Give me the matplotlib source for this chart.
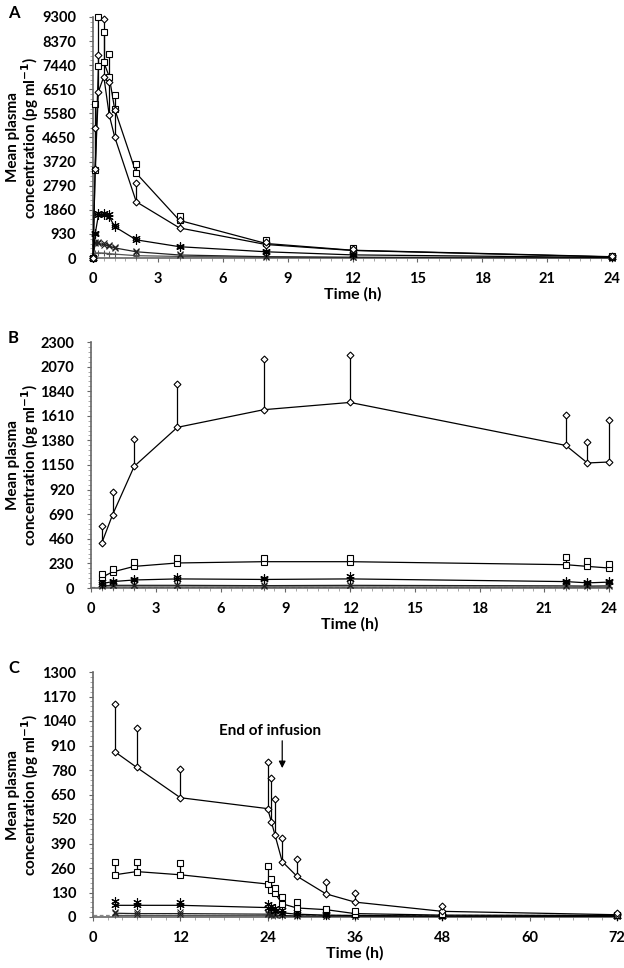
import matplotlib
matplotlib.use("Agg")
import matplotlib.pyplot as plt
from matplotlib.ticker import MultipleLocator

plt.rcParams['font.family'] = ['Lato', 'DejaVu Sans']
plt.rcParams['font.weight'] = 'bold'

W, H = 624, 968
lloq = 10

# panel A
tA = [0, 0.1, 0.25, 0.5, 0.75, 1, 2, 4, 8, 12, 24]
A_dia_mean = [0, 3450, 6420, 7000, 5520, 4680, 2170, 1160, 520, 290, 40]
A_dia_top = [0, 5020, 7830, 9220, 6790, 5700, 2880, 1470, 620, 340, 70]
A_sq_mean = [0, 3400, 7410, 7550, 7000, 5750, 3270, 1450, 560, 300, 50]
A_sq_top = [0, 5940, 9310, 8730, 7870, 6290, 3620, 1620, 690, 370, 80]
A_ast_mean = [0, 930, 1650, 1650, 1600, 1210, 700, 436, 240, 120, 20]
A_ast_top = [0, 960, 1720, 1720, 1680, 1280, 760, 480, 270, 140, 30]
A_x_mean = [0, 580, 560, 520, 460, 390, 240, 116, 50, 30, 10]
A_x_top = [0, 630, 610, 570, 500, 430, 270, 140, 60, 35, 12]
A_plus_mean = [0, 190, 200, 190, 170, 150, 90, 60, 30, 15, 5]

# panel B
tB = [0.5, 1, 2, 4, 8, 12, 22, 23, 24]
B_dia_mean = [421, 685, 1137, 1502, 1667, 1735, 1333, 1169, 1178]
B_dia_top = [576, 894, 1393, 1907, 2141, 2181, 1614, 1361, 1567]
B_sq_mean = [100, 150, 202, 234, 246, 246, 218, 202, 187]
B_sq_top = [130, 180, 240, 280, 280, 280, 286, 249, 227]
B_ast_mean = [40, 60, 75, 85, 80, 85, 60, 48, 55]
B_ast_top = [55, 70, 88, 100, 95, 108, 70, 58, 68]
B_x_mean = [20, 25, 25, 25, 22, 25, 20, 18, 20]
B_x_top = [28, 32, 32, 32, 30, 32, 27, 25, 27]
B_plus_mean = [8, 10, 10, 10, 10, 10, 8, 8, 8]

# panel C
tC = [3, 6, 12, 24, 24.5, 25, 26, 28, 32, 36, 48, 72]
C_dia_mean = [877, 794, 633, 575, 506, 436, 294, 217, 123, 79, 30, 12]
C_dia_top = [1129, 1004, 785, 820, 739, 626, 420, 310, 188, 130, 56, 22]
C_sq_mean = [224, 241, 224, 175, 145, 127, 70, 48, 39, 18, 10, 8]
C_sq_top = [291, 291, 286, 268, 203, 154, 104, 77, 45, 30, 14, 12]
C_ast_mean = [62, 62, 62, 50, 40, 32, 22, 15, 10, 8, 5, 4]
C_ast_top = [83, 80, 80, 70, 60, 50, 35, 25, 15, 12, 7, 5]
C_x_mean = [20, 18, 18, 15, 12, 10, 8, 6, 5, 4, 3, 3]
C_x_top = [28, 26, 26, 22, 18, 15, 12, 9, 7, 6, 4, 4]
C_plus_mean = [8, 8, 8, 7, 6, 5, 4, 3, 3, 3, 2, 2]

asterisk = (6, 2, 0)


def series(ax, t, mean, top, marker, ms, color='black'):
    ax.plot(t, mean, color=color, lw=0.9, marker=marker, ms=ms,
            mfc='white', mec=color, mew=0.8, zorder=3, clip_on=False)
    if top is not None:
        for ti, m, tp in zip(t, mean, top):
            if tp > m:
                ax.plot([ti, ti], [m, tp], color=color, lw=0.9, zorder=2,
                        clip_on=False)
        ax.plot(t, top, ls='none', marker=marker, ms=ms, mfc='white',
                mec=color, mew=0.8, zorder=3, clip_on=False)


def panel(px, letter, t, dia, sq, ast, xs, plus, xmax, xstep, ymax, ystep):
    # px = (left, top, right, bottom) in pixels
    l, tp, r, b = px
    ax = fig.add_axes([l / W, 1 - b / H, (r - l) / W, (b - tp) / H])
    series(ax, t, plus, None, '+', 4, '#555555')
    series(ax, t, xs[0], xs[1], 'x', 4, '#222222')
    series(ax, t, ast[0], ast[1], asterisk, 6)
    series(ax, t, sq[0], sq[1], 's', 5)
    series(ax, t, dia[0], dia[1], 'D', 3.5)
    ax.axhline(lloq, color='#888888', ls='--', lw=0.9, dashes=(3, 2), zorder=1)
    ax.set_xlim(0, xmax)
    ax.set_ylim(0, ymax)
    ax.xaxis.set_major_locator(MultipleLocator(xstep))
    ax.yaxis.set_major_locator(MultipleLocator(ystep))
    ax.xaxis.set_minor_locator(MultipleLocator(xstep / 6))
    ax.yaxis.set_minor_locator(MultipleLocator(ystep / 5))
    for s in ['top', 'right']:
        ax.spines[s].set_visible(False)
    for s in ['left', 'bottom']:
        ax.spines[s].set_color('#666666')
        ax.spines[s].set_linewidth(1.2)
    ax.tick_params(which='major', length=3, color='#666666', labelsize=10.5)
    ax.tick_params(axis='y', which='major', pad=9)
    ax.tick_params(axis='x', which='major', pad=7)
    ax.tick_params(which='minor', length=2, color='#999999')
    for lab in ax.get_xticklabels() + ax.get_yticklabels():
        lab.set_fontweight('bold')
    ax.set_xlabel('Time (h)', fontsize=11.5, fontweight='bold', labelpad=1)
    ax.set_ylabel('Mean plasma\nconcentration (pg ml$^{\\mathbf{-1}}$)',
                  fontsize=11, fontweight='bold', linespacing=0.95)
    ax.yaxis.set_label_coords((41 - l) / (r - l), 0.5)
    fig.text(8 / W, 1 - (tp - 4) / H, letter, fontsize=12,
             fontweight='bold', va='center', ha='left')
    return ax


fig = plt.figure(figsize=(W / 100, H / 100), dpi=100)

panel((93, 17, 612, 258), 'A', tA,
      (A_dia_mean, A_dia_top), (A_sq_mean, A_sq_top), (A_ast_mean, A_ast_top),
      (A_x_mean, A_x_top), A_plus_mean, 24, 3, 9300, 930)

panel((91, 342, 609, 588), 'B', tB,
      (B_dia_mean, B_dia_top), (B_sq_mean, B_sq_top), (B_ast_mean, B_ast_top),
      (B_x_mean, B_x_top), B_plus_mean, 24, 3, 2300, 230)

axC = panel((93, 672, 617, 917), 'C', tC,
            (C_dia_mean, C_dia_top), (C_sq_mean, C_sq_top), (C_ast_mean, C_ast_top),
            (C_x_mean, C_x_top), C_plus_mean, 72, 12, 1300, 130)

axC.text(24.3, 985, 'End of infusion', ha='center', va='center',
         fontsize=11, fontweight='bold')
axC.annotate('', xy=(26, 790), xytext=(26, 935),
             arrowprops=dict(arrowstyle='-|>', color='black', lw=0.9,
                             shrinkA=0, shrinkB=0, mutation_scale=10))

fig.savefig('out.png', dpi=100)
